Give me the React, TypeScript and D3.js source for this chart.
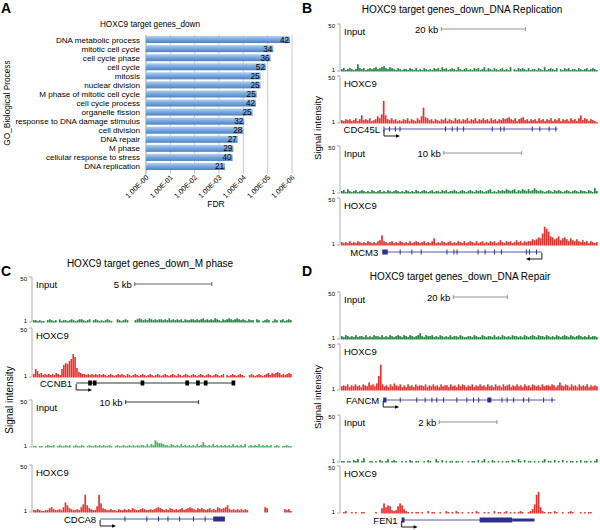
import React from 'react';
import * as d3 from 'd3';

const FONT = '"Liberation Sans", Arial, Helvetica, sans-serif';

// panel A: GO terms, -log10(FDR), gene counts
const goTerms = [
  'DNA metabolic process', 'mitotic cell cycle', 'cell cycle phase', 'cell cycle', 'mitosis',
  'nuclear division', 'M phase of mitotic cell cycle', 'cell cycle process', 'organelle fission',
  'response to DNA damage stimulus', 'cell division', 'DNA repair', 'M phase',
  'cellular response to stress', 'DNA replication',
];
const goNegLogFdr = [5.92, 5.23, 5.12, 4.93, 4.71, 4.71, 4.55, 4.52, 4.38, 4.04, 4.0, 3.77, 3.59, 3.56, 3.25];
const goGeneCounts = [42, 34, 36, 52, 25, 25, 25, 42, 25, 32, 28, 27, 29, 40, 21];
const fdrTicks = ['1.00E-00', '1.00E-01', '1.00E-02', '1.00E-03', '1.00E-04', '1.00E-05', '1.00E-06'];

// signal tracks, one char per bin (base36 height)
const cdc45lInput = '23123212732312323423453243213212213213121321213231423123214212312132312413213212312140213232131221321412321302132312213212312321';
const cdc45lHoxc9 = '324342352483435234759n8435342324352432537g653424324352432534243524352435342534243545643524563424342534243524352434253425835424321';
const mcm3Input = '23142123123212132123121321232121321213212321231221323122321232123213232123412132324323413243242353232123213232123212321322132152';
const mcm3Hoxc9 = '32324232432324323245a4323423243232423432342324723243234232432423432423423243423532434235342434465687cjhe986795786475464353424323';
const ccnb1Input = '2212110232120312212321233212302321212321003212320002343232432323323242323231322332323423232432132343234323213220320123201320231232';
const ccnb1Hoxc9 = '3863423232324328cedgink9543323232323232123212323213212321232123212321232123213212321232123212321232123021232123210023212321234243454232343';
const cdca8Input = '1101101211201211212012112101211212121121012112112121212213132754432213212131212121312521213121212121312121301212131212120121011211';
const cdca8Hoxc9 = '2232112245322325a743223258i743226i94322322132232324322343223234543232432323423454324343234232543457323232323200000000540000000032 31'.replace(/ /g, '');
const fancmInput = '32432324233242324332423243234324324323463243342324323242332432233243224323324232432324332324323432433243232432343243234323242332';
const fancmHoxc9 = '4546354645365485647fr645364754635364536455463546453645536453646535463546453645364536456354645364536545364554653585465364536454635454';
const fen1Input = '11011021301400110102101301210010102101100102100310201011011010010110201301021010101102103102011010101301102010201011010201101013';
const fen1Hoxc9 = '012001010011000001005a6873237a8421010110100201100100210102101001010210010100201101201010121001249jm62101102100100121000101011000';

// gene models, positions in kb from locus start
const cdc45lExons = [10.2, 11.5, 12.9, 14.0, 24.8, 26.4, 27.6, 29.1, 35.9, 37.9, 38.7, 45.4, 47.2, 49.4, 51.0];
const mcm3Exons = [7.6, 9.1, 10.3, 13.6, 14.5, 14.9, 17.6, 18.5, 19.7, 20.6, 23.8, 24.2, 25.1];
const ccnb1Exons = [3.7, 4.0, 7.1, 10.0, 10.7, 11.2, 13.0];
const cdca8Exons = [12.6, 15.6, 17.2, 18.5, 20.1, 22.0, 23.6];
const fancmExons = [21.9, 28.0, 31.1, 33.6, 35.4, 37.9, 42.8, 46.5, 49.0, 50.9, 59.5, 61.4, 63.8, 67.5, 69.4, 74.9, 78.0];
const fen1Exons: number[] = [];

const parse = (s: string) => s.split('').map((c) => parseInt(c, 36) || 0);

const GREEN = '#23833f';
const LIGHT_GREEN = '#3fb35b';
const RED = '#e8312c';
const GENE = '#2e2e8c';

const loci = [
  {
    name: 'CDC45L', x0: 341, x1: 598, span: 61, input: cdc45lInput, chip: cdc45lHoxc9, inputColor: GREEN,
    inputTop: 24, inputBase: 71, chipTop: 76, chipBase: 123, geneY: 129,
    gene: [10.2, 51.4], exons: cdc45lExons, blocks: [] as number[][], tss: 10.2, dir: 1, geneColor: GENE,
    bar: { label: '20 kb', start: 23.8, len: 20, y: 29, color: '#888' },
  },
  {
    name: 'MCM3', x0: 341, x1: 598, span: 33, input: mcm3Input, chip: mcm3Hoxc9, inputColor: GREEN,
    inputTop: 146, inputBase: 193, chipTop: 198, chipBase: 245, geneY: 252,
    gene: [5.3, 25.8], exons: mcm3Exons, blocks: [[5.3, 6.0]], tss: 25.8, dir: -1, geneColor: GENE,
    bar: { label: '10 kb', start: 13.2, len: 10, y: 153, color: '#888' },
  },
  {
    name: 'CCNB1', x0: 33, x1: 292, span: 16.8, input: ccnb1Input, chip: ccnb1Hoxc9, inputColor: GREEN,
    inputTop: 277, inputBase: 322, chipTop: 328, chipBase: 377, geneY: 383,
    gene: [2.8, 13.0], exons: [], blocks: ccnb1Exons.map((e) => [e - 0.12, e + 0.12]), tss: 2.8, dir: 1, geneColor: '#000',
    bar: { label: '5 kb', start: 6.6, len: 5, y: 284, color: '#555' },
  },
  {
    name: 'CDCA8', x0: 33, x1: 292, span: 35.5, input: cdca8Input, chip: cdca8Hoxc9, inputColor: LIGHT_GREEN,
    inputTop: 400, inputBase: 447, chipTop: 465, chipBase: 512, geneY: 519,
    gene: [9.2, 26.3], exons: cdca8Exons, blocks: [[24.7, 26.3]], tss: 9.2, dir: 1, geneColor: GENE,
    bar: { label: '10 kb', start: 12.7, len: 10, y: 402, color: '#222' },
  },
  {
    name: 'FANCM', x0: 341, x1: 598, span: 95, input: fancmInput, chip: fancmHoxc9, inputColor: GREEN,
    inputTop: 292, inputBase: 339, chipTop: 344, chipBase: 390, geneY: 400,
    gene: [15.6, 79.3], exons: fancmExons, blocks: [[15.6, 16.8], [54.1, 55.6]], tss: 15.6, dir: 1, geneColor: GENE,
    bar: { label: '20 kb', start: 41.5, len: 20, y: 297, color: '#888' },
  },
  {
    name: 'FEN1', x0: 341, x1: 598, span: 8.9, input: fen1Input, chip: fen1Hoxc9, inputColor: GREEN,
    inputTop: 415, inputBase: 462, chipTop: 466, chipBase: 513, geneY: 520,
    gene: [2.1, 6.7], exons: fen1Exons, blocks: [[2.1, 2.2], [4.8, 5.93]], tss: 2.1, dir: 1, geneColor: GENE,
    thin: [5.93, 6.7],
    bar: { label: '2 kb', start: 3.4, len: 2, y: 422, color: '#888' },
  },
];

const BarPanel = () => {
  const x = d3.scaleLinear().domain([0, 6]).range([146, 292]);
  const y = d3.scaleBand().domain(goTerms).range([35, 171]).paddingInner(0.22).paddingOuter(0.11);
  return (
    <g fontFamily={FONT}>
      <defs>
        <linearGradient id="barGrad" x1="0" y1="0" x2="0" y2="1">
          <stop offset="0%" stopColor="#b6d1f1" />
          <stop offset="45%" stopColor="#7aa9e0" />
          <stop offset="100%" stopColor="#4f82c4" />
        </linearGradient>
      </defs>
      <text x={150} y={27} fontSize={8.2} textAnchor="middle">HOXC9 target genes_down</text>
      {fdrTicks.map((t, i) => (
        <g key={t}>
          <line x1={x(i)} x2={x(i)} y1={35} y2={174} stroke={i === 0 ? '#777' : '#bbb'} strokeWidth={0.8} />
          <text transform={`translate(${x(i) + 3},${178}) rotate(-45)`} fontSize={7.2} textAnchor="end">{t}</text>
        </g>
      ))}
      {goTerms.map((g, i) => (
        <g key={g}>
          <rect x={x(0)} y={y(g)} width={x(goNegLogFdr[i]) - x(0)} height={y.bandwidth()} fill="url(#barGrad)" />
          <text x={x(goNegLogFdr[i]) - 1} y={(y(g) as number) + y.bandwidth() / 2 + 3} fontSize={8.2} textAnchor="end">
            {goGeneCounts[i]}
          </text>
          <text x={140} y={(y(g) as number) + y.bandwidth() / 2 + 3} fontSize={8.1} textAnchor="end">{g}</text>
        </g>
      ))}
      <text x={216} y={207} fontSize={8.5} textAnchor="middle">FDR</text>
      <text transform="translate(10,103) rotate(-90)" fontSize={8.3} textAnchor="middle">GO_Biological Process</text>
    </g>
  );
};

const Track = ({ values, x0, x1, top, base, color, label, axisX }) => {
  const data = parse(values);
  const x = d3.scaleLinear().domain([0, data.length]).range([x0, x1]);
  const y = d3.scaleLinear().domain([1, 50]).range([base, top]);
  const w = x(1) - x(0);
  return (
    <g>
      <line x1={axisX} x2={axisX} y1={top} y2={base} stroke="#999" strokeWidth={0.8} />
      <line x1={axisX - 3} x2={axisX} y1={top} y2={top} stroke="#999" strokeWidth={0.8} />
      <line x1={axisX - 3} x2={axisX} y1={base} y2={base} stroke="#999" strokeWidth={0.8} />
      <text x={axisX - 5} y={top + 3.5} fontSize={6} textAnchor="end">50</text>
      <text x={axisX - 5} y={base + 0.5} fontSize={6} textAnchor="end">1</text>
      {data.map((v, i) =>
        v > 0 ? (
          <rect key={i} x={x(i)} y={y(1 + v)} width={w * 0.85} height={y(1) - y(1 + v) + 0.5} fill={color} />
        ) : null,
      )}
      <text x={axisX + 4} y={top + 11} fontSize={9.5}>{label}</text>
    </g>
  );
};

const Locus = ({ l }) => {
  const axisX = l.x0 - 1;
  const x = d3.scaleLinear().domain([0, l.span]).range([l.x0, l.x1]);
  const gy = l.geneY;
  const tx = x(l.tss);
  const sb = l.bar;
  return (
    <g fontFamily={FONT}>
      <Track values={l.input} x0={l.x0} x1={l.x1} top={l.inputTop} base={l.inputBase} color={l.inputColor} label="Input" axisX={axisX} />
      <Track values={l.chip} x0={l.x0} x1={l.x1} top={l.chipTop} base={l.chipBase} color={RED} label="HOXC9" axisX={axisX} />
      <text x={x(sb.start) - 3} y={sb.y + 3.5} fontSize={9.5} textAnchor="end">{sb.label}</text>
      <line x1={x(sb.start)} x2={x(sb.start + sb.len)} y1={sb.y} y2={sb.y} stroke={sb.color} strokeWidth={0.9} />
      <line x1={x(sb.start)} x2={x(sb.start)} y1={sb.y - 2} y2={sb.y + 2} stroke={sb.color} strokeWidth={0.9} />
      <line x1={x(sb.start + sb.len)} x2={x(sb.start + sb.len)} y1={sb.y - 2} y2={sb.y + 2} stroke={sb.color} strokeWidth={0.9} />
      <text x={x(l.gene[0]) - 4} y={gy + 3.5} fontSize={9.5} textAnchor="end">{l.name}</text>
      <line x1={x(l.gene[0])} x2={x(l.gene[1])} y1={gy} y2={gy} stroke={l.geneColor} strokeWidth={0.8} />
      {l.exons.map((e, i) => (
        <line key={i} x1={x(e)} x2={x(e)} y1={gy - 2.5} y2={gy + 2.5} stroke={l.geneColor} strokeWidth={1} />
      ))}
      {l.blocks.map((b, i) => (
        <rect key={i} x={x(b[0])} y={gy - 2.5} width={Math.max(2.5, x(b[1]) - x(b[0]))} height={5} fill={l.geneColor} />
      ))}
      {l.thin ? (
        <rect x={x(l.thin[0])} y={gy - 1.5} width={x(l.thin[1]) - x(l.thin[0])} height={3} fill={l.geneColor} />
      ) : null}
      <path
        d={`M${tx},${gy + 1}V${gy + 7}H${tx + l.dir * 13}`}
        fill="none"
        stroke="#000"
        strokeWidth={0.9}
      />
      <path
        d={`M${tx + l.dir * 16},${gy + 7}L${tx + l.dir * 12},${gy + 5.2}L${tx + l.dir * 12},${gy + 8.8}Z`}
        fill="#000"
      />
    </g>
  );
};

const App = () => (
  <svg width={600} height={530} style={{ position: 'absolute', left: 0, top: 0, background: '#fff' }}>
    <rect width={600} height={530} fill="#fff" />
    <g fontFamily={FONT} fontWeight="bold" fontSize={14}>
      <text x={1} y={13}>A</text>
      <text x={302} y={13}>B</text>
      <text x={1} y={276}>C</text>
      <text x={302} y={276}>D</text>
    </g>
    <g fontFamily={FONT} fontSize={10}>
      <text x={462} y={13} textAnchor="middle">HOXC9 target genes_down_DNA Replication</text>
      <text x={150} y={267} textAnchor="middle">HOXC9 target genes_down_M phase</text>
      <text x={460} y={280} textAnchor="middle">HOXC9 target genes_down_DNA Repair</text>
      <text transform="translate(321,128) rotate(-90)" textAnchor="middle" fontSize={9.5}>Signal intensity</text>
      <text transform="translate(13,400) rotate(-90)" textAnchor="middle" fontSize={10}>Signal intensity</text>
      <text transform="translate(321,397) rotate(-90)" textAnchor="middle" fontSize={9.5}>Signal intensity</text>
    </g>
    <BarPanel />
    {loci.map((l) => (
      <Locus key={l.name} l={l} />
    ))}
  </svg>
);

export default App;
